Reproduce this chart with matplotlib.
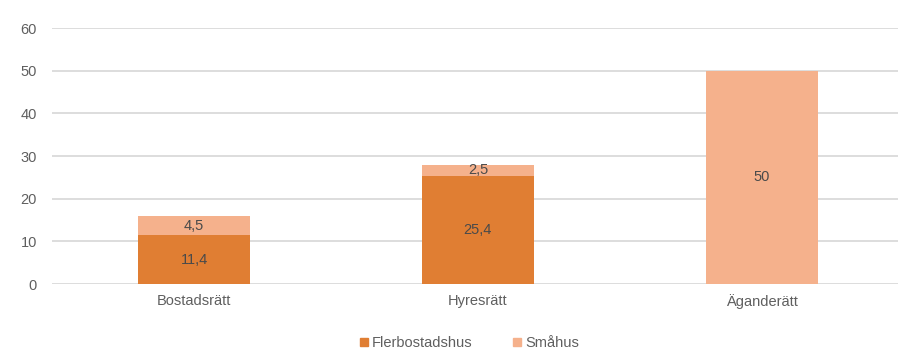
import numpy as np
import matplotlib.pyplot as plt
from matplotlib.patches import Patch

# Andel per upplåtelseform, uppdelat på hustyp
categories = ['Bostadsrätt', 'Hyresrätt', 'Äganderätt']
flerbostadshus = [11.4, 25.4, 0]
smahus = [4.5, 2.5, 50]
series_names = ['Flerbostadshus', 'Småhus']

dark = '#E07E33'
light = '#F5B18C'
grey = '#5f5f5f'

plt.rcParams['font.family'] = ['Liberation Sans', 'DejaVu Sans']

fig = plt.figure(figsize=(8.98, 3.52), dpi=100)
ax = fig.add_axes([0.058, 0.193, 0.942, 0.727])

x = np.arange(len(categories))
w = 0.395

b1 = ax.bar(x, flerbostadshus, w, color=dark, zorder=3)
b2 = ax.bar(x, smahus, w, bottom=flerbostadshus, color=light, zorder=3)

def fmt(v):
    return f"{v:g}".replace('.', ',')

for rect, v in zip(b1, flerbostadshus):
    if v > 0:
        ax.text(rect.get_x() + rect.get_width() / 2, rect.get_y() + v / 2, fmt(v),
                ha='center', va='center', fontsize=10.5, color='#4a4a4a', zorder=4)
for rect, v, b in zip(b2, smahus, flerbostadshus):
    if v > 0:
        ax.text(rect.get_x() + rect.get_width() / 2, b + v / 2, fmt(v),
                ha='center', va='center', fontsize=10.5, color='#4a4a4a', zorder=4)

ax.set_xlim(-0.5, 2.48)
ax.set_ylim(0, 60)
ax.set_yticks(range(0, 61, 10))
ax.set_xticks(x)
ax.set_xticklabels(categories)
ax.tick_params(length=0, labelsize=10.5, colors=grey)
ax.tick_params(axis='x', pad=7)
ax.tick_params(axis='y', pad=11)
ax.grid(axis='y', color='#DADADA', linewidth=1.3, zorder=0)
for s in ax.spines.values():
    s.set_visible(False)

handles = [Patch(color=dark), Patch(color=light)]
fig.legend(handles, series_names, loc='center', bbox_to_anchor=(0.523, 0.026),
           ncol=2, frameon=False, fontsize=10.5, handlelength=0.5, handleheight=0.5,
           handletextpad=0.3, columnspacing=2.8, labelcolor=grey)

fig.savefig('out.png', dpi=100)
